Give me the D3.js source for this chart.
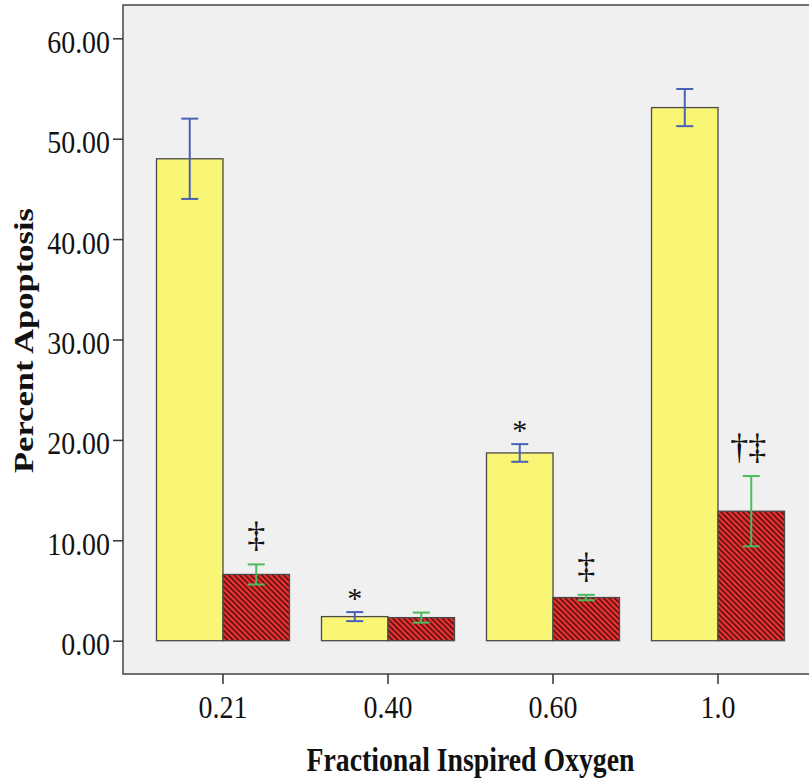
<!DOCTYPE html>
<html>
<head>
<meta charset="utf-8">
<script src="https://cdn.jsdelivr.net/npm/d3@7"></script>
<style>
  body { margin: 0; background: #fff; }
  text { font-family: "Liberation Serif", "Times New Roman", serif; fill: #111; }
</style>
</head>
<body>
<svg id="chart" width="809" height="782"></svg>
<script>
// values
var categories = ['0.21', '0.40', '0.60', '1.0'];
var seriesNames = ['control', 'treated'];
var controlMeans = [48.0, 2.4, 18.7, 53.1];
var controlErrors = [4.0, 0.45, 0.88, 1.85];
var treatedMeans = [6.6, 2.3, 4.3, 12.9];
var treatedErrors = [1.0, 0.5, 0.27, 3.5];
var yTicks = [0, 10, 20, 30, 40, 50, 60];
var marks = [
    {cat: '0.21', series: 'treated', label: '\u2021'},
    {cat: '0.40', series: 'control', label: '*'},
    {cat: '0.60', series: 'control', label: '*'},
    {cat: '0.60', series: 'treated', label: '\u2021'},
    {cat: '1.0', series: 'treated', label: '\u2020\u2021'}
];

var svg = d3.select('#chart');
var plot = {left: 123, top: 5, right: 818, bottom: 674};

var x = d3.scaleBand().domain(categories)
        .range([plot.left, plot.right])
        .paddingInner(0.194).paddingOuter(0.203);
var xs = d3.scaleBand().domain(seriesNames).range([0, x.bandwidth()]);
var y = d3.scaleLinear().domain([0, 60]).range([640.7, 38.3]);

var fill = {control: '#f9f575', treated: '#ea3230'};
var errColor = {control: '#4a62b6', treated: '#4cbc5c'};

var defs = svg.append('defs');
var hatch = defs.append('pattern')
    .attr('id', 'hatch')
    .attr('patternUnits', 'userSpaceOnUse')
    .attr('width', 5.5).attr('height', 5.5);
hatch.append('rect').attr('width', 5.5).attr('height', 5.5).attr('fill', fill.treated);
hatch.append('path')
    .attr('d', 'M-1,-1L6.5,6.5M-1,4.5L1,6.5M4.5,-1L6.5,1')
    .attr('stroke', '#2a0606').attr('stroke-width', 1.15);

// plot area
svg.append('rect')
    .attr('x', plot.left).attr('y', plot.top)
    .attr('width', plot.right - plot.left).attr('height', plot.bottom - plot.top)
    .attr('fill', '#f0f0f0')
    .attr('stroke', '#444').attr('stroke-width', 1.5);

var rows = [];
categories.forEach(function(c, i) {
    rows.push({cat: c, series: 'control', mean: controlMeans[i], err: controlErrors[i]});
    rows.push({cat: c, series: 'treated', mean: treatedMeans[i], err: treatedErrors[i]});
});
function cx(d) { return x(d.cat) + xs(d.series) + xs.bandwidth()/2; }

svg.append('g').selectAll('rect.bar')
    .data(rows).enter().append('rect')
    .attr('class', 'bar')
    .attr('x', function(d) { return x(d.cat) + xs(d.series); })
    .attr('y', function(d) { return y(d.mean); })
    .attr('width', xs.bandwidth())
    .attr('height', function(d) { return y(0) - y(d.mean); })
    .attr('fill', function(d) { return d.series === 'treated' ? 'url(#hatch)' : fill.control; })
    .attr('stroke', '#4a4a4a').attr('stroke-width', 1.3);

var err = svg.append('g').selectAll('g.err')
    .data(rows).enter().append('g')
    .attr('class', 'err')
    .attr('stroke', function(d) { return errColor[d.series]; })
    .attr('stroke-width', 2);
err.append('line')
    .attr('x1', cx).attr('x2', cx)
    .attr('y1', function(d) { return y(d.mean + d.err); })
    .attr('y2', function(d) { return y(d.mean - d.err); });
[1, -1].forEach(function(s) {
    err.append('line')
        .attr('x1', function(d) { return cx(d) - 8.5; })
        .attr('x2', function(d) { return cx(d) + 8.5; })
        .attr('y1', function(d) { return y(d.mean + s*d.err); })
        .attr('y2', function(d) { return y(d.mean + s*d.err); });
});

// significance marks
var byKey = {};
rows.forEach(function(r) { byKey[r.cat + '|' + r.series] = r; });
svg.append('g').selectAll('text.mark')
    .data(marks).enter().append('text')
    .attr('class', 'mark')
    .attr('text-anchor', 'middle')
    .attr('x', function(m) { return cx(byKey[m.cat + '|' + m.series]) - (m.label.length > 1 ? 3 : 0); })
    .attr('y', function(m) {
        var r = byKey[m.cat + '|' + m.series];
        return y(r.mean + r.err) - (m.label === '*' ? 4 : 17);
    })
    .style('font-size', function(m) { return m.label === '*' ? '30px' : '36px'; })
    .text(function(m) { return m.label; });

// axes
var yAxis = svg.append('g')
    .attr('transform', 'translate(' + plot.left + ',0)')
    .call(d3.axisLeft(y).tickValues(yTicks).tickFormat(d3.format('.2f')).tickSize(10).tickPadding(3));
var xAxis = svg.append('g')
    .attr('transform', 'translate(0,' + plot.bottom + ')')
    .call(d3.axisBottom(x).tickSize(10).tickPadding(13));
[yAxis, xAxis].forEach(function(ax) {
    ax.select('.domain').remove();
    ax.selectAll('.tick line').attr('stroke', '#333').attr('stroke-width', 1.5);
    ax.selectAll('.tick text')
        .attr('fill', '#111')
        .style('font-size', '31px')
        .style('font-family', '"Liberation Serif", "Times New Roman", serif');
});
yAxis.selectAll('.tick text').attr('dy', '0.45em');
xAxis.selectAll('.tick text').attr('dy', '0.68em');
// the figure's text is slightly narrow
svg.selectAll('.tick text').each(function() {
    d3.select(this).attr('textLength', this.getComputedTextLength() * 0.9)
        .attr('lengthAdjust', 'spacingAndGlyphs');
});

svg.append('text')
    .attr('x', (plot.left + plot.right)/2).attr('y', 771)
    .attr('text-anchor', 'middle')
    .attr('textLength', 328).attr('lengthAdjust', 'spacingAndGlyphs')
    .style('font-size', '33px').style('font-weight', 'bold')
    .text('Fractional Inspired Oxygen');

svg.append('text')
    .attr('transform', 'translate(33,340.5) rotate(-90)')
    .attr('text-anchor', 'middle')
    .attr('textLength', 265).attr('lengthAdjust', 'spacingAndGlyphs')
    .style('font-size', '28px').style('font-weight', 'bold')
    .text('Percent Apoptosis');
</script>
</body>
</html>
